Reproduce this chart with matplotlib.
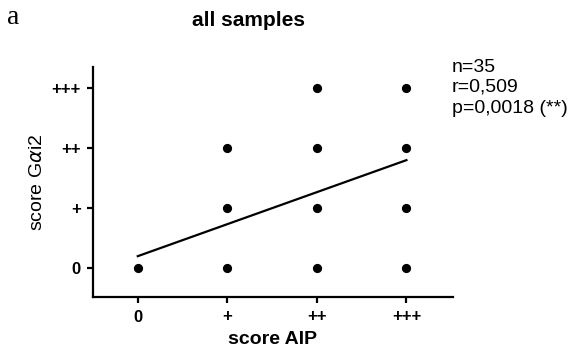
import matplotlib
matplotlib.use("Agg")
import matplotlib.pyplot as plt
import numpy as np

# Ordinal immunohistochemistry scores (0, +, ++, +++)
score_labels = ["0", "+", "++", "+++"]
aip_scores = [0, 1, 1, 1, 2, 2, 2, 2, 3, 3, 3, 3]
gai2_scores = [0, 0, 1, 2, 0, 1, 2, 3, 0, 1, 2, 3]

# Linear regression fit
fit_intercept = 0.2
fit_slope = 0.533
fit_x = [0, 3]

stats_lines = ["n=35", "r=0,509", "p=0,0018 (**)"]

plt.rcParams["font.family"] = ["Liberation Sans", "DejaVu Sans"]

fig = plt.figure(figsize=(5.73, 3.6), dpi=100)
ax = fig.add_axes([93 / 573, 63 / 360, 360 / 573, 230 / 360])

ax.scatter(aip_scores, gai2_scores, s=44, color="black", zorder=3, linewidths=0)
fx = np.array(fit_x, dtype=float)
ax.plot(fx, fit_intercept + fit_slope * fx, color="black", lw=1.6)

ax.set_xlim(-0.5, 3.52)
ax.set_ylim(-0.48, 3.35)
ax.set_xticks(range(4))
ax.set_xticklabels(score_labels, fontweight="bold", fontsize=12)
ax.set_yticks(range(4))
ax.set_yticklabels(score_labels, fontweight="bold", fontsize=12)
for s in ["top", "right"]:
    ax.spines[s].set_visible(False)
for s in ["left", "bottom"]:
    ax.spines[s].set_linewidth(1.6)
ax.tick_params(width=1.6, length=4, pad=5)

ax.set_xlabel("score AIP", fontweight="bold", fontsize=14, labelpad=5)
ax.set_ylabel("score G$\\alpha$i2", fontsize=14, labelpad=4)

fig.text(248 / 573, 1 - 20 / 360, "all samples", ha="center", va="center",
         fontweight="bold", fontsize=15)
fig.text(7 / 573, 1 - 17 / 360, "a", ha="left", va="center",
         family="Liberation Serif", fontsize=20)

for i, line in enumerate(stats_lines):
    fig.text(452 / 573, 1 - (67 + 20.5 * i) / 360, line, ha="left", va="center",
             fontsize=14)

fig.savefig("out.png", dpi=100)
